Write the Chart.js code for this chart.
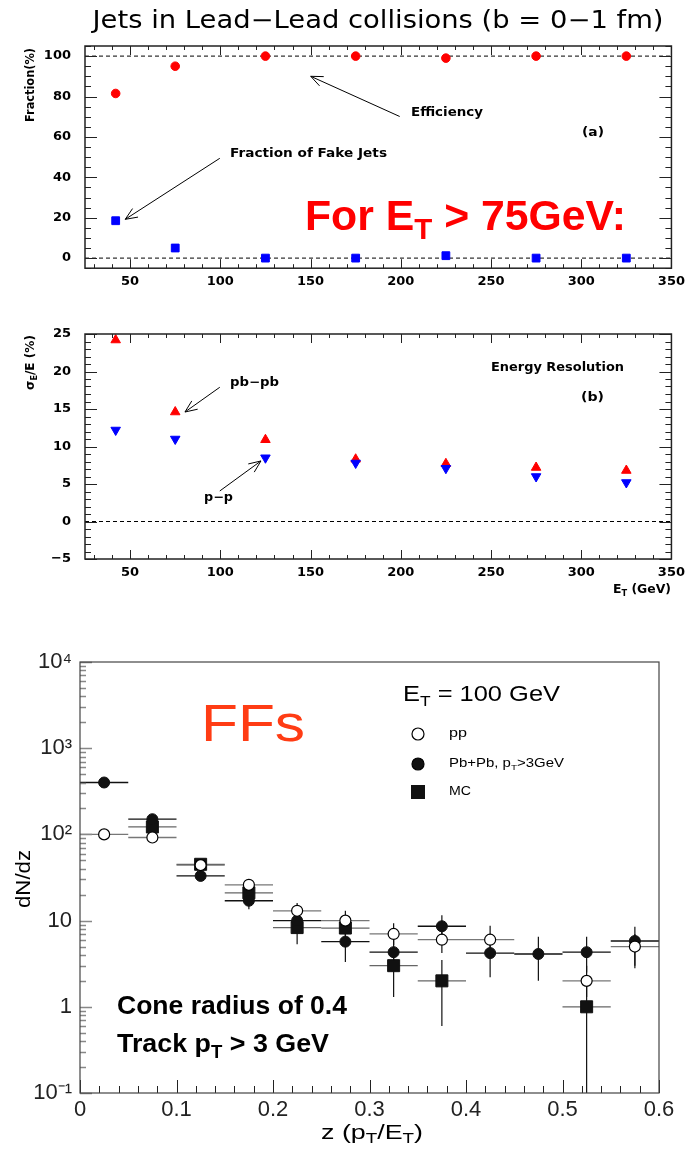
<!DOCTYPE html>
<html><head><meta charset="utf-8">
<script src="https://cdn.jsdelivr.net/npm/chart.js@4"></script>
<style>
html,body{margin:0;padding:0;background:#fff;}
body{width:691px;height:1150px;position:relative;overflow:hidden;}
canvas{position:absolute;left:0;}
</style></head><body>
<canvas id="c1" width="691" height="290" style="top:0"></canvas>
<canvas id="c2" width="691" height="320" style="top:290px"></canvas>
<canvas id="c3" width="691" height="520" style="top:630px"></canvas>
<script>
// ---------- data ----------
const etBins = [42, 75, 125, 175, 225, 275, 325];
const efficiency = [81.5, 95, 100, 100, 99, 100, 100];
const fakeJetFraction = [18.5, 5, 0, 0, 1.2, 0, 0];
const resPbPb = [24.2, 14.6, 10.9, 8.3, 7.7, 7.2, 6.8];
const resPP = [12.2, 11.0, 8.5, 7.8, 7.1, 6.0, 5.2];
const etTicks = [50, 100, 150, 200, 250, 300, 350];
const fracTicks = [0, 20, 40, 60, 80, 100];
const resTicks = [-5, 0, 5, 10, 15, 20, 25];
const fracRefLevels = [0, 100];
const resRefLevels = [0];

const zBins = [0.025, 0.075, 0.125, 0.175, 0.225, 0.275, 0.325, 0.375, 0.425, 0.475, 0.525, 0.575];
const zHalfWidth = 0.025;
const ffPP       = [100, 92, 44, 26, 13, 10, 7, 6, 6, null, 2, 5];
const ffPPLow    = [null, null, null, 23.5, 11.5, 8, 5.2, 4.2, 4.5, null, 1.3, 3];
const ffPPHigh   = [null, null, null, 29, 16, 13, 9.3, 8, 8.7, null, 3, 7];
const ffPbPb     = [400, 150, 33, 17, 10, 5.7, 4.3, 8.6, 4.2, 4.1, 4.3, 5.8];
const ffPbPbLow  = [null, null, null, 13.5, 7.5, 3.3, 3, 6.3, 2.2, 2, 2.5, 2.8];
const ffPbPbHigh = [null, null, null, 20, 13, 8, 6, 11.5, 6, 6.5, 6.5, 8.5];
const ffMC       = [null, 122, 45, 21, 8.3, 8.2, 3.0, 2.0, null, null, 1.0, null];
const ffMCLow    = [null, null, null, 17, 5.3, 6, 1.3, 0.6, null, null, 0.02, null];
const ffMCHigh   = [null, null, null, 24, 11, 10, 5, 3.5, null, null, 2, null];
const zTicks = [0, 0.1, 0.2, 0.3, 0.4, 0.5, 0.6];
const logTicks = [0.1, 1, 10, 100, 1000, 10000];
const logTickLabels = ['10\u207B\u00B9', '1', '10', '10\u00B2', '10\u00B3', '10\u2074'];

// ---------- helpers ----------
function parseRich(str) {
  const segs = []; const re = /_\{([^}]*)\}|\^\{([^}]*)\}|([^_^]+)/g; let m;
  while ((m = re.exec(str))) {
    if (m[1] !== undefined) segs.push({t: m[1], sub: true});
    else if (m[2] !== undefined) segs.push({t: m[2], sup: true});
    else segs.push({t: m[3]});
  }
  return segs;
}
function drawRich(ctx, str, x, y, o) {
  const segs = parseRich(str);
  ctx.save();
  ctx.fillStyle = o.color || '#000';
  ctx.textBaseline = 'middle';
  ctx.textAlign = 'left';
  const fam = o.family || 'Liberation Sans';
  const wt = o.weight || 'normal';
  const fontFor = s => `${wt} ${(s.sub || s.sup) ? Math.round(o.size * 0.7) : o.size}px "${fam}"`;
  let total = 0;
  segs.forEach(s => { ctx.font = fontFor(s); s.w = ctx.measureText(s.t).width; total += s.w; });
  const sx = o.width ? o.width / total : 1;
  ctx.translate(x, y);
  if (o.rotate) ctx.rotate(o.rotate);
  ctx.scale(sx, 1);
  let cx = o.align === 'center' ? -total / 2 : o.align === 'right' ? -total : 0;
  segs.forEach(s => {
    ctx.font = fontFor(s);
    const dy = s.sub ? o.size * 0.32 : s.sup ? -o.size * 0.35 : 0;
    ctx.fillText(s.t, cx, dy);
    cx += s.w;
  });
  ctx.restore();
}
function arrow(ctx, x1, y1, x2, y2) {
  ctx.save();
  ctx.strokeStyle = '#000'; ctx.lineWidth = 1;
  ctx.beginPath(); ctx.moveTo(x1, y1); ctx.lineTo(x2, y2);
  const ang = Math.atan2(y1 - y2, x1 - x2), L = 13;
  ctx.moveTo(x2 + L * Math.cos(ang + 0.4), y2 + L * Math.sin(ang + 0.4));
  ctx.lineTo(x2, y2);
  ctx.lineTo(x2 + L * Math.cos(ang - 0.4), y2 + L * Math.sin(ang - 0.4));
  ctx.stroke();
  ctx.restore();
}
function boxTicks(chart, c) {
  const {ctx, chartArea: a} = chart;
  const xs = chart.scales.x, ys = chart.scales.y;
  ctx.save();
  ctx.strokeStyle = '#222'; ctx.lineWidth = 1;
  ctx.beginPath();
  for (let v = Math.ceil(xs.min / c.xMinor) * c.xMinor; v <= xs.max + 1e-9; v += c.xMinor) {
    const px = Math.round(xs.getPixelForValue(v)) + 0.5;
    const len = (Math.abs(v / c.xMajor - Math.round(v / c.xMajor)) < 1e-6) ? 9 : 4;
    ctx.moveTo(px, a.bottom); ctx.lineTo(px, a.bottom - len);
    ctx.moveTo(px, a.top); ctx.lineTo(px, a.top + len);
  }
  for (let v = Math.ceil(ys.min / c.yMinor) * c.yMinor; v <= ys.max + 1e-9; v += c.yMinor) {
    const py = Math.round(ys.getPixelForValue(v)) + 0.5;
    const len = (Math.abs(v / c.yMajor - Math.round(v / c.yMajor)) < 1e-6) ? 12 : 6;
    ctx.moveTo(a.left, py); ctx.lineTo(a.left + len, py);
    ctx.moveTo(a.right, py); ctx.lineTo(a.right - len, py);
  }
  ctx.stroke();
  ctx.lineWidth = 1.5;
  ctx.strokeRect(a.left, a.top, a.right - a.left, a.bottom - a.top);
  ctx.restore();
}
const rootTickFont = {family: 'DejaVu Sans', size: 13, weight: 'bold'};
const rootText = {size: 12, family: 'DejaVu Sans', weight: 'bold'};
function fixedTicks(arr) { return s => { s.ticks = arr.map(v => ({value: v})); }; }
const baseOpts = () => ({
  responsive: false, animation: false, events: [],
  plugins: {legend: {display: false}, tooltip: {enabled: false}, title: {display: false}},
});
function refLine(level, x0, x1) {
  return {type: 'line', label: 'ref ' + level, data: [{x: x0, y: level}, {x: x1, y: level}],
    borderColor: '#000', borderWidth: 1, borderDash: [4, 3], pointRadius: 0, order: 10};
}

// ---------- chart 1 : efficiency / fakes ----------
new Chart(document.getElementById('c1'), {
  type: 'scatter',
  data: {datasets: [
    {label: 'Efficiency', data: etBins.map((x, i) => ({x, y: efficiency[i]})), pointStyle: 'circle',
     pointRadius: 4.3, backgroundColor: '#ff0000', borderColor: '#ff0000', order: 0},
    {label: 'Fraction of Fake Jets', data: etBins.map((x, i) => ({x, y: fakeJetFraction[i]})), pointStyle: 'rect',
     pointRadius: 5.5, backgroundColor: '#0000ff', borderColor: '#0000ff', order: 1},
    ...fracRefLevels.map(l => refLine(l, 25, 350))
  ]},
  options: Object.assign(baseOpts(), {
    layout: {padding: {top: 46, right: 19, left: 0, bottom: 0}},
    scales: {
      x: {type: 'linear', min: 25, max: 350, afterBuildTicks: fixedTicks(etTicks), afterFit: s => { s.height = 20; },
          grid: {display: false, drawTicks: false}, border: {display: false},
          ticks: {padding: 6, font: rootTickFont, color: '#000', maxRotation: 0, autoSkip: false}},
      y: {min: -5, max: 105, afterBuildTicks: fixedTicks(fracTicks), afterFit: s => { s.width = 85; },
          grid: {display: false, drawTicks: false}, border: {display: false},
          ticks: {padding: 14, font: rootTickFont, color: '#000'}}
    }
  }),
  plugins: [{
    id: 'deco1',
    afterDraw(chart) {
      const ctx = chart.ctx, xs = chart.scales.x, ys = chart.scales.y;
      const P = (x, y) => [xs.getPixelForValue(x), ys.getPixelForValue(y)];
      boxTicks(chart, {xMajor: 50, xMinor: 10, yMajor: 20, yMinor: 5});
      drawRich(ctx, 'Jets in Lead\u2212Lead collisions (b = 0\u22121 fm)', 378, 22, {size: 24, family: 'DejaVu Sans', align: 'center', width: 571});
      drawRich(ctx, 'Fraction(%)', 31, 48, Object.assign({}, rootText, {align: 'right', rotate: -Math.PI / 2, width: 74}));
      drawRich(ctx, 'Efficiency', 411, 113, Object.assign({}, rootText, {width: 72}));
      drawRich(ctx, '(a)', 582, 133, Object.assign({}, rootText, {width: 22}));
      drawRich(ctx, 'Fraction of Fake Jets', 230, 154, Object.assign({}, rootText, {width: 157}));
      drawRich(ctx, 'For E_{T} > 75GeV:', 305, 218, {size: 42, weight: 'bold', color: '#ff0000', width: 321});
      arrow(ctx, ...P(199.4, 70.1), ...P(150.1, 90));
      arrow(ctx, ...P(99.7, 49.4), ...P(47.3, 19.2));
    }
  }]
});

// ---------- chart 2 : energy resolution ----------
new Chart(document.getElementById('c2'), {
  type: 'scatter',
  data: {datasets: [
    {label: 'pb-pb', data: etBins.map((x, i) => ({x, y: resPbPb[i]})), pointStyle: 'triangle',
     pointRadius: 5.5, backgroundColor: '#ff0000', borderColor: '#ff0000', order: 1},
    {label: 'p-p', data: etBins.map((x, i) => ({x, y: resPP[i]})), pointStyle: 'triangle', rotation: 180,
     pointRadius: 5.5, backgroundColor: '#0000ff', borderColor: '#0000ff', order: 0},
    ...resRefLevels.map(l => refLine(l, 25, 350))
  ]},
  options: Object.assign(baseOpts(), {
    layout: {padding: {top: 44, right: 19, left: 0, bottom: 0}},
    scales: {
      x: {type: 'linear', min: 25, max: 350, afterBuildTicks: fixedTicks(etTicks), afterFit: s => { s.height = 51; },
          grid: {display: false, drawTicks: false}, border: {display: false},
          ticks: {padding: 6, font: rootTickFont, color: '#000', maxRotation: 0, autoSkip: false}},
      y: {min: -5, max: 25, afterBuildTicks: fixedTicks(resTicks), afterFit: s => { s.width = 85; },
          grid: {display: false, drawTicks: false}, border: {display: false},
          ticks: {padding: 14, font: rootTickFont, color: '#000', callback: v => String(v).replace('-', '\u2212')}}
    }
  }),
  plugins: [{
    id: 'deco2',
    afterDraw(chart) {
      const ctx = chart.ctx, xs = chart.scales.x, ys = chart.scales.y;
      const P = (x, y) => [xs.getPixelForValue(x), ys.getPixelForValue(y)];
      boxTicks(chart, {xMajor: 50, xMinor: 10, yMajor: 5, yMinor: 1});
      drawRich(ctx, '\u03C3_{E}/E (%)', 31, 45, Object.assign({}, rootText, {align: 'right', rotate: -Math.PI / 2, width: 55}));
      drawRich(ctx, 'Energy Resolution', 491, 78, Object.assign({}, rootText, {width: 133}));
      drawRich(ctx, '(b)', 581, 108, Object.assign({}, rootText, {width: 23}));
      drawRich(ctx, 'pb\u2212pb', 230, 93, Object.assign({}, rootText, {width: 49}));
      drawRich(ctx, 'p\u2212p', 204, 208, Object.assign({}, rootText, {width: 29}));
      drawRich(ctx, 'E_{T} (GeV)', 671, 300, Object.assign({}, rootText, {align: 'right', width: 58}));
      arrow(ctx, ...P(99.7, 17.9), ...P(80.4, 14.6));
      arrow(ctx, ...P(99.7, 4.07), ...P(122.5, 8.07));
    }
  }]
});

// ---------- chart 3 : fragmentation functions ----------
const ffSeries = [
  {vals: ffPP, lo: ffPPLow, hi: ffPPHigh, hColor: '#777'},
  {vals: ffPbPb, lo: ffPbPbLow, hi: ffPbPbHigh, hColor: '#111'},
  {vals: ffMC, lo: ffMCLow, hi: ffMCHigh, hColor: '#666'}
];
const toPts = vals => zBins.map((x, i) => vals[i] == null ? null : {x, y: vals[i]}).filter(Boolean);
new Chart(document.getElementById('c3'), {
  type: 'scatter',
  data: {datasets: [
    {label: 'pp', data: toPts(ffPP), pointStyle: 'circle', pointRadius: 5.5, backgroundColor: '#fff', borderColor: '#000', borderWidth: 1.2, order: 0},
    {label: 'Pb+Pb, pT>3GeV', data: toPts(ffPbPb), pointStyle: 'circle', pointRadius: 5.5, backgroundColor: '#111', borderColor: '#111', borderWidth: 1, order: 1},
    {label: 'MC', data: toPts(ffMC), pointStyle: 'rect', pointRadius: 8.5, backgroundColor: '#111', borderColor: '#111', borderWidth: 1, order: 2}
  ]},
  options: Object.assign(baseOpts(), {
    layout: {padding: {top: 32, right: 32, left: 0, bottom: 0}},
    scales: {
      x: {type: 'linear', min: 0, max: 0.6, afterBuildTicks: fixedTicks(zTicks), afterFit: s => { s.height = 57; },
          grid: {display: false, drawTicks: false}, border: {display: false},
          ticks: {padding: 4, font: {family: 'Liberation Sans', size: 22}, color: '#222', maxRotation: 0, autoSkip: false,
                  callback: v => String(v)}},
      y: {type: 'logarithmic', min: 0.1, max: 10000, afterBuildTicks: fixedTicks(logTicks), afterFit: s => { s.width = 80; },
          grid: {display: false, drawTicks: false}, border: {display: false},
          ticks: {padding: 8, font: {family: 'Liberation Sans', size: 22}, color: '#222',
                  callback: v => logTickLabels[logTicks.indexOf(v)]}}
    }
  }),
  plugins: [{
    id: 'errbars',
    beforeDatasetsDraw(chart) {
      const {ctx, chartArea: a} = chart, xs = chart.scales.x, ys = chart.scales.y;
      ctx.save();
      ctx.beginPath(); ctx.rect(a.left, a.top, a.right - a.left, a.bottom - a.top); ctx.clip();
      ffSeries.forEach(s => {
        zBins.forEach((z, i) => {
          if (s.vals[i] == null) return;
          const py = ys.getPixelForValue(s.vals[i]);
          ctx.strokeStyle = s.hColor; ctx.lineWidth = 1.3;
          ctx.beginPath();
          ctx.moveTo(xs.getPixelForValue(z - zHalfWidth), py);
          ctx.lineTo(xs.getPixelForValue(z + zHalfWidth), py);
          ctx.stroke();
          if (s.lo[i] != null) {
            const px = xs.getPixelForValue(z);
            ctx.strokeStyle = '#111'; ctx.lineWidth = 1.2;
            ctx.beginPath();
            ctx.moveTo(px, ys.getPixelForValue(s.hi[i]));
            ctx.lineTo(px, ys.getPixelForValue(s.lo[i]));
            ctx.stroke();
          }
        });
      });
      ctx.restore();
    },
    afterDraw(chart) {
      const {ctx, chartArea: a} = chart, xs = chart.scales.x, ys = chart.scales.y;
      ctx.save();
      ctx.strokeStyle = '#888'; ctx.lineWidth = 1.6;
      ctx.beginPath();
      for (let d = -1; d <= 4; d++) {
        for (let k = 1; k <= 9; k++) {
          const v = k * Math.pow(10, d);
          if (v > 10000 + 1e-6) break;
          const py = Math.round(ys.getPixelForValue(v)) + 0.5;
          const len = k === 1 ? 12 : 6;
          ctx.moveTo(a.left, py); ctx.lineTo(a.left + len, py);
        }
      }
      ctx.stroke();
      ctx.strokeStyle = '#222'; ctx.lineWidth = 1;
      ctx.beginPath();
      for (let j = 0; j <= 30; j++) {
        const v = j * 0.02;
        const px = Math.round(xs.getPixelForValue(v)) + 0.5;
        const len = j % 5 === 0 ? 13 : 7;
        ctx.moveTo(px, a.bottom); ctx.lineTo(px, a.bottom - len);
      }
      ctx.stroke();
      ctx.strokeStyle = '#444'; ctx.lineWidth = 1.2;
      ctx.strokeRect(a.left, a.top, a.right - a.left, a.bottom - a.top);
      ctx.restore();

      drawRich(ctx, 'FFs', 201, 97, {size: 52, color: '#ff3c14', width: 104});
      drawRich(ctx, 'E_{T} = 100 GeV', 403, 65, {size: 22, width: 157});
      ctx.save();
      ctx.lineWidth = 1.2; ctx.strokeStyle = '#000';
      ctx.fillStyle = '#fff'; ctx.beginPath(); ctx.arc(418, 104, 6, 0, Math.PI * 2); ctx.fill(); ctx.stroke();
      ctx.fillStyle = '#111'; ctx.beginPath(); ctx.arc(418, 134, 6, 0, Math.PI * 2); ctx.fill(); ctx.stroke();
      ctx.fillRect(411, 155, 14, 14);
      ctx.restore();
      drawRich(ctx, 'pp', 449, 104, {size: 12, width: 18});
      drawRich(ctx, 'Pb+Pb, p_{T}>3GeV', 449, 134, {size: 12, width: 115});
      drawRich(ctx, 'MC', 449, 162, {size: 12, width: 22});
      drawRich(ctx, 'Cone radius of 0.4', 117, 377, {size: 26, weight: 'bold', width: 230});
      drawRich(ctx, 'Track p_{T} > 3 GeV', 117, 415, {size: 26, weight: 'bold', width: 212});
      drawRich(ctx, 'dN/dz', 24, 249, {size: 21, align: 'center', rotate: -Math.PI / 2, width: 58});
      drawRich(ctx, 'z (p_{T}/E_{T})', 372, 503, {size: 20, align: 'center', width: 102});
    }
  }]
});
</script>
</body></html>
